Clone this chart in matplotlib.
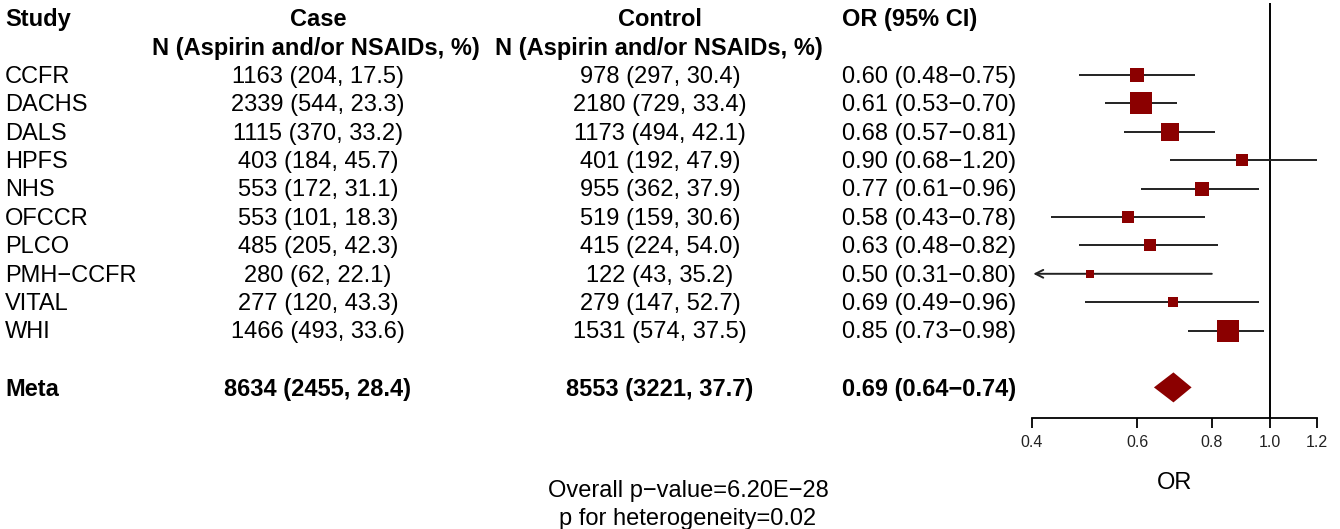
import numpy as np
import matplotlib
matplotlib.use('Agg')
import matplotlib.pyplot as plt
from matplotlib.patches import Polygon

plt.rcParams['font.family'] = ['Liberation Sans', 'DejaVu Sans']

# data
studies = ['CCFR', 'DACHS', 'DALS', 'HPFS', 'NHS', 'OFCCR', 'PLCO', 'PMH\u2212CCFR', 'VITAL', 'WHI']
case_txt = ['1163 (204, 17.5)', '2339 (544, 23.3)', '1115 (370, 33.2)', '403 (184, 45.7)',
            '553 (172, 31.1)', '553 (101, 18.3)', '485 (205, 42.3)', '280 (62, 22.1)',
            '277 (120, 43.3)', '1466 (493, 33.6)']
ctrl_txt = ['978 (297, 30.4)', '2180 (729, 33.4)', '1173 (494, 42.1)', '401 (192, 47.9)',
            '955 (362, 37.9)', '519 (159, 30.6)', '415 (224, 54.0)', '122 (43, 35.2)',
            '279 (147, 52.7)', '1531 (574, 37.5)']
or_est = [0.60, 0.61, 0.68, 0.90, 0.77, 0.58, 0.63, 0.50, 0.69, 0.85]
or_lo = [0.48, 0.53, 0.57, 0.68, 0.61, 0.43, 0.48, 0.31, 0.49, 0.73]
or_hi = [0.75, 0.70, 0.81, 1.20, 0.96, 0.78, 0.82, 0.80, 0.96, 0.98]
meta_case = '8634 (2455, 28.4)'
meta_ctrl = '8553 (3221, 37.7)'
meta_or = [0.69, 0.64, 0.74]
overall_p = '6.20E\u221228'
het_p = '0.02'
xticks = [0.4, 0.6, 0.8, 1.0, 1.2]

W, H = 1340, 529
fig = plt.figure(figsize=(W / 100, H / 100), dpi=100)

# row i sits at pixel y = y0 + dy * i
y0, dy = 18.2, 28.4
def row_of(py):
    return (py - y0) / dy

# text layer covering the whole figure
tx = fig.add_axes([0, 0, 1, 1])
tx.set_xlim(0, W)
tx.set_ylim(row_of(H), row_of(0))
tx.axis('off')

fs = 17
nudge = 0.06  # small shift down so glyphs sit on the row like in the reference
def put(x, i, s, ha='left', bold=False, size=fs):
    tx.text(x, i + nudge, s, ha=ha, va='center', fontsize=size,
            fontweight='bold' if bold else 'normal', color='black')

put(5, 0, 'Study', bold=True)
put(318, 0, 'Case', ha='center', bold=True)
put(316, 1, 'N (Aspirin and/or NSAIDs, %)', ha='center', bold=True)
put(660, 0, 'Control', ha='center', bold=True)
put(659, 1, 'N (Aspirin and/or NSAIDs, %)', ha='center', bold=True)
put(842, 0, 'OR (95% CI)', bold=True)

for k in range(len(studies)):
    i = k + 2
    put(5, i, studies[k])
    put(318, i, case_txt[k], ha='center')
    put(660, i, ctrl_txt[k], ha='center')
    put(842, i, '%.2f (%.2f\u2212%.2f)' % (or_est[k], or_lo[k], or_hi[k]))

mi = len(studies) + 3
put(5, mi, 'Meta', bold=True)
put(318, mi, meta_case, ha='center', bold=True)
put(660, mi, meta_ctrl, ha='center', bold=True)
put(842, mi, '%.2f (%.2f\u2212%.2f)' % tuple(meta_or), bold=True)

put(688, row_of(489), 'Overall p\u2212value=' + overall_p, ha='center')
put(688, row_of(517), 'p for heterogeneity=' + het_p, ha='center')

# forest panel
left, right, top, bot = 1032, 1317, 3, 418
ax = fig.add_axes([left / W, 1 - bot / H, (right - left) / W, (bot - top) / H])
ax.set_xscale('log')
ax.set_xlim(0.4, 1.2)
ax.set_ylim(row_of(bot), row_of(top))
ax.patch.set_alpha(0)
for s in ['top', 'right', 'left']:
    ax.spines[s].set_visible(False)
ax.spines['bottom'].set_linewidth(1.3)
ax.set_yticks([])
ax.set_xticks(xticks)
ax.set_xticklabels(['%.1f' % t for t in xticks])
ax.xaxis.set_minor_locator(matplotlib.ticker.NullLocator())
ax.tick_params(axis='x', direction='out', length=7, width=1.3, labelsize=11.5, pad=5,
               labelcolor='#222222')
ax.set_xlabel('OR', fontsize=17, labelpad=16)

ax.axvline(1.0, color='black', lw=1.4, zorder=1)

lo_lim = 0.4
for k in range(len(studies)):
    i = k + 2
    lo = max(or_lo[k], lo_lim)
    if or_lo[k] < lo_lim:
        ax.annotate('', xy=(lo_lim * 1.005, i), xytext=(or_hi[k], i),
                    arrowprops=dict(arrowstyle='->', color='#222222', lw=1.4,
                                    mutation_scale=14, shrinkA=0, shrinkB=0), zorder=2)
    else:
        ax.plot([lo, or_hi[k]], [i, i], color='#222222', lw=1.4, zorder=2,
                solid_capstyle='butt')
    # box side grows with precision (1/se)
    se = (np.log(or_hi[k]) - np.log(or_lo[k])) / 3.92
    side_px = 1.9 + 1.476 / se
    ax.plot(or_est[k], i, marker='s', ms=side_px * 0.72, color='#8b0000',
            markeredgewidth=0, zorder=3)

hh = 15 / dy
dia = Polygon([[meta_or[1], mi], [meta_or[0], mi - hh], [meta_or[2], mi], [meta_or[0], mi + hh]],
              closed=True, facecolor='#8b0000', edgecolor='none', zorder=3)
ax.add_patch(dia)

fig.savefig('out.png', dpi=100)
